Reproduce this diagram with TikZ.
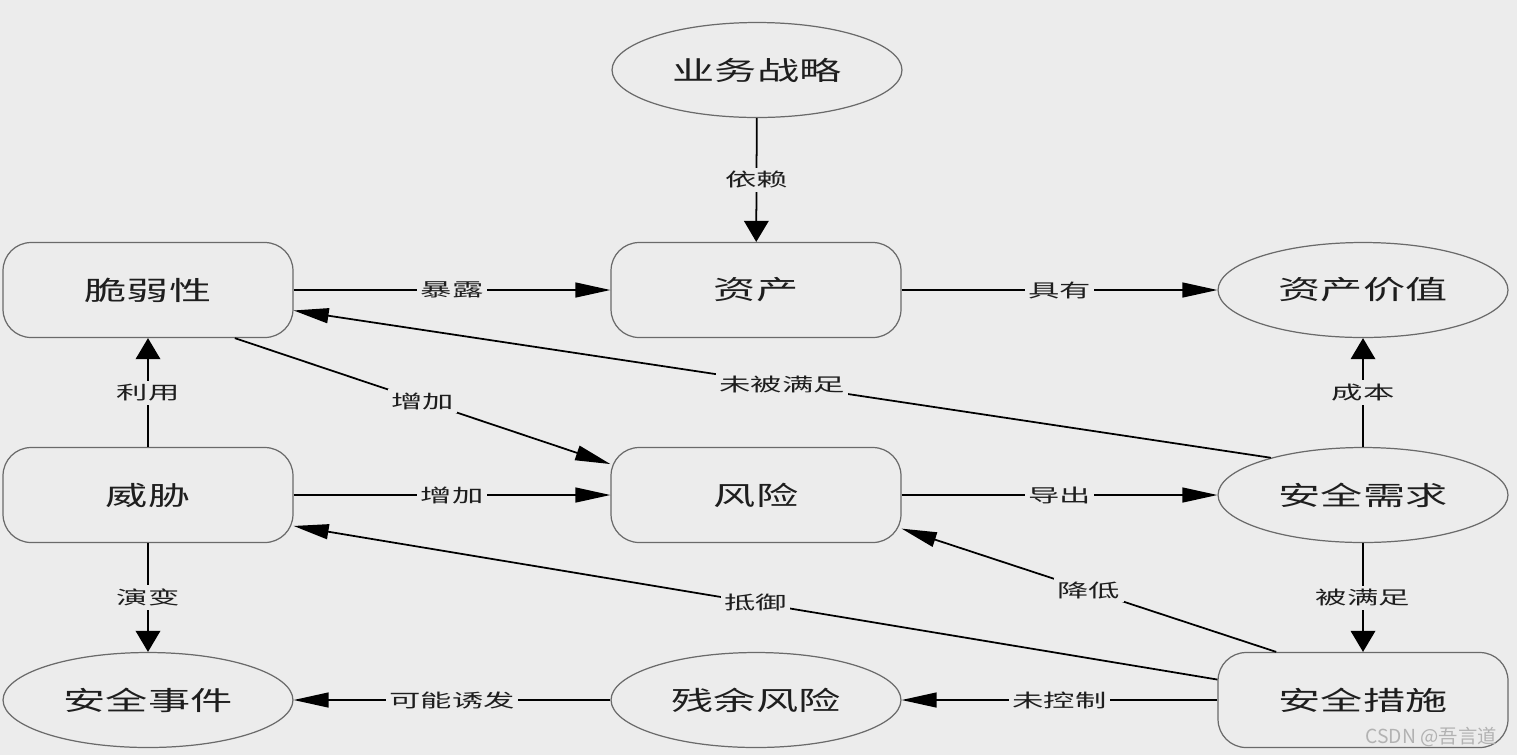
\documentclass[tikz,border=0pt]{standalone}
\usepackage{fontspec}
\setmainfont[FakeStretch=1.6]{Noto Sans CJK SC}
\newfontfamily\tagfont[FakeStretch=1.7]{Noto Sans CJK SC}
\newfontfamily\markfont{Noto Sans CJK SC}
\usetikzlibrary{arrows.meta,shapes.geometric}
\definecolor{PageBg}{HTML}{ECECEC}
\definecolor{BoxLine}{HTML}{6A6A6A}
\definecolor{TextInk}{HTML}{1E1E1E}

\tikzset{
  box/.style={draw=BoxLine,line width=0.7pt,rounded corners=16pt,
    minimum width=5.8cm,minimum height=1.9cm,inner sep=0pt,
    text=TextInk,font=\fontsize{15}{18}\selectfont},
  oval/.style={box,ellipse,rounded corners=0pt},
  link/.style={draw=black,line width=1pt},
  harr/.style={link,-{Triangle[length=20pt,width=8.5pt]}},
  varr/.style={link,-{Triangle[length=12pt,width=14pt]}},
  tag/.style={fill=PageBg,inner sep=2pt,text=TextInk,
    font=\tagfont\fontsize{10.5}{12}\selectfont}
}

\begin{document}
\begin{tikzpicture}[x=0.02cm,y=-0.02cm]
  % page
  \fill[PageBg] (0,0) rectangle (1517,755);
  \useasboundingbox (0,0) rectangle (1517,755);

  % top row
  \node[oval] (strategy) at (757,70) {业务战略};

  % second row
  \node[box]  (vuln)   at (148,290)  {脆弱性};
  \node[box]  (asset)  at (756,290)  {资产};
  \node[oval] (value)  at (1363,290) {资产价值};

  % third row
  \node[box]  (threat) at (148,495)  {威胁};
  \node[box]  (risk)   at (756,495)  {风险};
  \node[oval] (need)   at (1363,495) {安全需求};

  % bottom row
  \node[oval] (event)    at (148,700)  {安全事件};
  \node[oval] (residual) at (756,700)  {残余风险};
  \node[box]  (measure)  at (1363,700) {安全措施};

  % vertical links
  \draw[varr] (strategy) -- node[tag]{依赖} (asset);
  \draw[varr] (threat) -- node[tag]{利用} (vuln);
  \draw[varr] (threat) -- node[tag]{演变} (event);
  \draw[varr] (need) -- node[tag]{成本} (value);
  \draw[varr] (need) -- node[tag]{被满足} (measure);

  % horizontal links
  \draw[harr] (vuln) -- node[tag]{暴露} (asset);
  \draw[harr] (asset) -- node[tag]{具有} (value);
  \draw[harr] (threat) -- node[tag]{增加} (risk);
  \draw[harr] (risk) -- node[tag]{导出} (need);
  \draw[harr] (measure) -- node[tag]{未控制} (residual);
  \draw[harr] (residual) -- node[tag]{可能诱发} (event);

  % slanted links
  \draw[harr] (need.158) -- node[tag]{未被满足} (vuln.-8.6);
  \draw[harr] (vuln.-29) -- node[tag]{增加} (risk.168);
  \draw[harr] (measure.151) -- node[tag]{降低} (risk.-13);
  \draw[harr] (measure.172) -- node[tag]{抵御} (threat.-12);

  % watermark
  \node[anchor=east,text=gray!60,font=\markfont\fontsize{11}{13}\selectfont]
    (mark) at (1503,737) {CSDN @吾言道};
\end{tikzpicture}
\end{document}
